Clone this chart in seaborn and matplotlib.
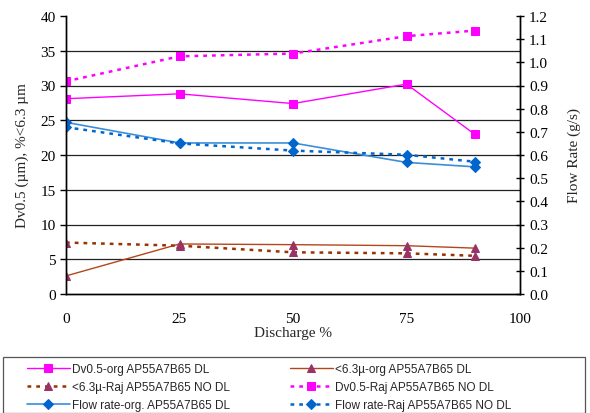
import matplotlib
matplotlib.use("Agg")
import matplotlib.pyplot as plt
import seaborn as sns
import pandas as pd
from matplotlib.ticker import FormatStrFormatter, MultipleLocator
from matplotlib.patches import Rectangle

sns.set_style("white")
plt.rcParams['font.family'] = ['Liberation Serif', 'DejaVu Serif']

discharge = [0, 25, 50, 75, 90]
dv_org = [28.1, 28.8, 27.4, 30.2, 23.0]
dv_raj = [30.6, 34.2, 34.6, 37.1, 37.9]
fine_org = [2.6, 7.2, 7.1, 6.95, 6.6]
fine_raj = [7.4, 6.95, 6.0, 5.85, 5.5]
flow_org = [0.741, 0.652, 0.652, 0.568, 0.549]
flow_raj = [0.720, 0.650, 0.619, 0.601, 0.571]

labels = {
    'dv_org': 'Dv0.5-org AP55A7B65 DL',
    'fine_org': '<6.3µ-org AP55A7B65 DL',
    'fine_raj': '<6.3µ-Raj AP55A7B65 NO DL',
    'dv_raj': 'Dv0.5-Raj AP55A7B65 NO DL',
    'flow_org': 'Flow rate-org. AP55A7B65 DL',
    'flow_raj': 'Flow rate-Raj AP55A7B65 NO DL',
}

fig = plt.figure(figsize=(5.9, 4.14), dpi=100)
ax = fig.add_axes([66/590, 1-295/414, (520-66)/590, (295-17)/414])
ax2 = ax.twinx()

def draw(axis, y, key, color, ls, marker, mcolor, lw=1.0, ms=6):
    df = pd.DataFrame({'x': discharge, 'y': y})
    sns.lineplot(data=df, x='x', y='y', ax=axis, color=color, linestyle=ls,
                 linewidth=lw, marker=marker, markersize=ms,
                 markerfacecolor=mcolor, markeredgecolor=mcolor,
                 label=labels[key], legend=False)

draw(ax, dv_org, 'dv_org', '#FF00FF', '-', 's', '#FF00FF')
draw(ax, dv_raj, 'dv_raj', '#FF00FF', (0, (1.5, 2.0)), 's', '#FF00FF', lw=1.8)
draw(ax, fine_org, 'fine_org', '#B5451B', '-', '^', '#993366')
draw(ax, fine_raj, 'fine_raj', '#993300', (0, (1.5, 2.0)), '^', '#993366', lw=1.8)
draw(ax2, flow_org, 'flow_org', '#3A8EDB', '-', 'D', '#0066CC', lw=1.2, ms=5)
draw(ax2, flow_raj, 'flow_raj', '#0066CC', (0, (1.5, 2.0)), 'D', '#0066CC', lw=1.8, ms=5)

ax.set_xlim(0, 100)
ax.set_ylim(0, 40)
ax2.set_ylim(0, 1.2)
ax.xaxis.set_major_locator(MultipleLocator(25))
ax.yaxis.set_major_locator(MultipleLocator(5))
ax2.yaxis.set_major_locator(MultipleLocator(0.1))
ax2.yaxis.set_major_formatter(FormatStrFormatter('%.1f'))

for y in range(5, 40, 5):
    ax.axhline(y, color='#222222', linewidth=0.9, zorder=0)

for a in (ax, ax2):
    a.spines['top'].set_visible(False)
    for s in ['left', 'right', 'bottom']:
        a.spines[s].set_color('black')
        a.spines[s].set_linewidth(1.0)

ax.tick_params(axis='both', direction='out', length=4, width=1, labelsize=11, colors='black')
ax.tick_params(axis='x', pad=9)
ax2.tick_params(axis='y', direction='inout', length=6, width=1, labelsize=11, colors='black')

ax.set_xlabel('Discharge %', fontsize=11, labelpad=1)
ax.set_ylabel('Dv0.5 (µm), %<6.3 µm', fontsize=11, labelpad=8)
ax2.set_ylabel('Flow Rate (g/s)', fontsize=11, labelpad=14)
ax2.set_xlabel('')

h1, l1 = ax.get_legend_handles_labels()
h2, l2 = ax2.get_legend_handles_labels()
hmap = dict(zip(l1 + l2, h1 + h2))
order = ['dv_org', 'fine_raj', 'flow_org', 'fine_org', 'dv_raj', 'flow_raj']
leg = fig.legend([hmap[labels[k]] for k in order], [labels[k] for k in order],
                 ncol=2, loc='upper left',
                 bbox_to_anchor=(27/590, 1-364/414),
                 frameon=False,
                 prop={'family': 'Liberation Sans', 'size': 8.5},
                 handlelength=3.6, handletextpad=0.2, labelspacing=0.5,
                 columnspacing=5.1, borderpad=0, borderaxespad=0)

fig.patches.append(Rectangle((3/590, 0), 582/590, 1-358/414, transform=fig.transFigure,
                             fill=False, edgecolor='#555555', linewidth=0.9))

fig.savefig('out.png', dpi=100)
